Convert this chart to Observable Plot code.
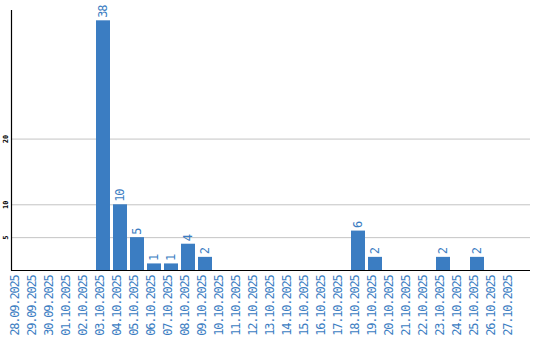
<!DOCTYPE html>
<html>
<head>
<meta charset="utf-8">
<script src="https://cdn.jsdelivr.net/npm/d3@7"></script>
<script src="https://cdn.jsdelivr.net/npm/@observablehq/plot@0.6"></script>
<style>
  html, body { margin: 0; padding: 0; background: #fff; }
  svg { display: block; }
  .lbl text { letter-spacing: -1.2px; }
</style>
</head>
<body>
<div id="chart"></div>
<script>
const dates = [
  "28.09.2025","29.09.2025","30.09.2025","01.10.2025","02.10.2025","03.10.2025",
  "04.10.2025","05.10.2025","06.10.2025","07.10.2025","08.10.2025","09.10.2025",
  "10.10.2025","11.10.2025","12.10.2025","13.10.2025","14.10.2025","15.10.2025",
  "16.10.2025","17.10.2025","18.10.2025","19.10.2025","20.10.2025","21.10.2025",
  "22.10.2025","23.10.2025","24.10.2025","25.10.2025","26.10.2025","27.10.2025"
];
const values = [
  0, 0, 0, 0, 0, 38,
  10, 5, 1, 1, 4, 2,
  0, 0, 0, 0, 0, 0,
  0, 0, 6, 2, 0, 0,
  0, 2, 0, 2, 0, 0
];
const yTicks = [5, 10, 20];

const data = dates.map((d, i) => ({date: d, value: values[i]})).filter(d => d.value > 0);
const blue = "#3b7dc2";
const mono = "DejaVu Sans Mono, monospace";

const chart = Plot.plot({
  width: 540,
  height: 340,
  marginTop: 10,
  marginBottom: 70,
  marginLeft: 11,
  marginRight: 10,
  style: {fontFamily: mono, background: "#fff"},
  x: {type: "band", domain: dates, range: [11, 518], paddingInner: 3 / 17, paddingOuter: 0, round: false, axis: null},
  y: {domain: [0, 39.57], axis: null},
  marks: [
    Plot.ruleY(yTicks, {stroke: "#c4c4c4", strokeWidth: 1}),
    Plot.barY(data, {x: "date", y: "value", fill: blue}),
    Plot.text(data, {x: "date", y: "value", text: d => String(d.value), rotate: -90, textAnchor: "start", dy: -3, fill: blue, fontSize: 12, fontFamily: mono, className: "lbl"}),
    Plot.text(dates, {x: d => d, frameAnchor: "bottom", dy: 5, rotate: -90, textAnchor: "end", fill: blue, fontSize: 12, fontFamily: mono, className: "lbl"}),
    Plot.text(yTicks, {y: d => d, frameAnchor: "left", dx: -5.5, rotate: -90, textAnchor: "middle", fill: "#000", fontSize: 7, fontWeight: "bold", fontFamily: mono}),
    Plot.ruleY([0], {stroke: "#000", strokeWidth: 1.2}),
    Plot.frame({anchor: "left", stroke: "#000", strokeWidth: 1.2})
  ]
});
document.getElementById("chart").appendChild(chart);
</script>
</body>
</html>
